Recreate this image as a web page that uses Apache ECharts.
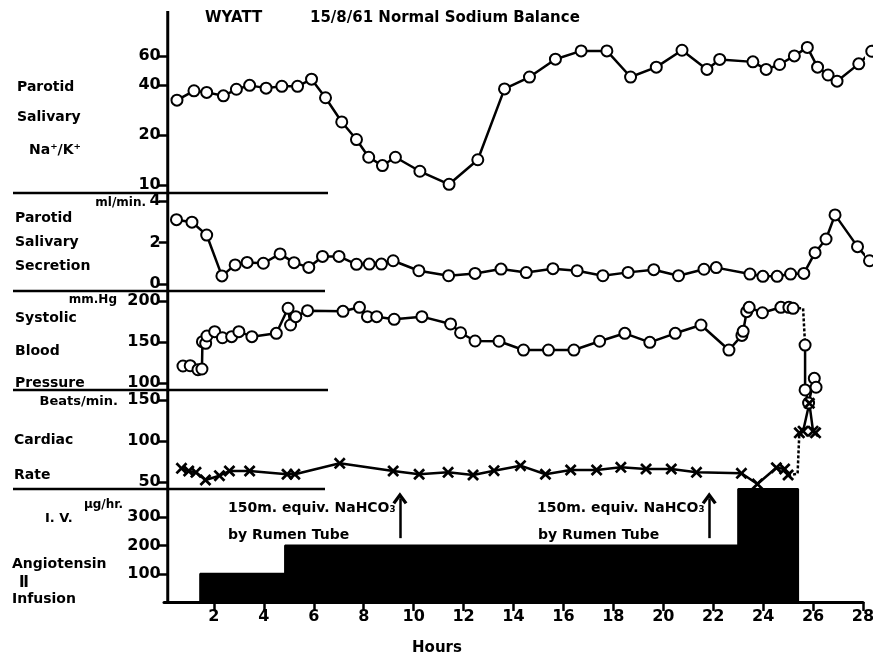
<!DOCTYPE html>
<html>
<head>
<meta charset="utf-8">
<script src="https://cdn.jsdelivr.net/npm/echarts@6/dist/echarts.min.js"></script>
<style>
  html, body { margin: 0; padding: 0; background: #fff; }
  #chart { width: 873px; height: 657px; }
</style>
</head>
<body>
<div id="chart"></div>
<script>
// hours on x, readings on y
var naKRatio = [
  [0.52, 32.5], [1.2, 37.0], [1.71, 36.2], [2.38, 34.5], [2.9, 37.8], [3.43, 39.9],
  [4.09, 38.4], [4.72, 39.4], [5.35, 39.4], [5.91, 43.5], [6.47, 33.6], [7.12, 24.0],
  [7.71, 18.8], [8.2, 14.7], [8.75, 13.1], [9.27, 14.7], [10.25, 12.1], [11.42, 10.1],
  [12.57, 14.2], [13.64, 38.0], [14.64, 44.8], [15.68, 57.4], [16.71, 64.4], [17.74, 64.4],
  [18.69, 44.8], [19.72, 51.4], [20.75, 65.0], [21.75, 49.8], [22.26, 57.2], [23.59, 55.3],
  [24.12, 49.8], [24.66, 53.3], [25.25, 60.1], [25.77, 67.6], [26.18, 51.4], [26.6, 46.1],
  [26.96, 42.3], [27.83, 53.8], [28.35, 64.1]
];
var secretion = [
  [0.5, 3.1], [1.12, 2.98], [1.71, 2.36], [2.32, 0.39], [2.85, 0.92], [3.33, 1.04],
  [3.98, 1.0], [4.65, 1.45], [5.21, 1.03], [5.8, 0.8], [6.35, 1.33], [7.01, 1.33],
  [7.71, 0.95], [8.22, 0.96], [8.71, 0.96], [9.18, 1.12], [10.21, 0.64], [11.4, 0.4],
  [12.46, 0.51], [13.5, 0.72], [14.51, 0.55], [15.58, 0.74], [16.55, 0.64], [17.58, 0.4],
  [18.59, 0.56], [19.62, 0.69], [20.61, 0.4], [21.63, 0.71], [22.12, 0.79], [23.47, 0.48],
  [23.99, 0.37], [24.56, 0.37], [25.1, 0.48], [25.63, 0.51], [26.08, 1.51], [26.52, 2.17],
  [26.88, 3.33], [27.78, 1.8], [28.26, 1.12]
];
var systolic = [
  [0.76, 120.7], [1.05, 121.1], [1.36, 116.2], [1.52, 117.1], [1.54, 150.4], [1.67, 148.4],
  [1.72, 157.3], [2.03, 162.6], [2.34, 155.2], [2.71, 156.5], [3.0, 162.6], [3.52, 156.5],
  [4.5, 160.6], [4.97, 191.1], [5.07, 170.7], [5.28, 180.9], [5.75, 188.2], [7.17, 187.4],
  [7.83, 192.3], [8.15, 180.9], [8.52, 180.9], [9.22, 177.7], [10.33, 180.9], [11.48, 172],
  [11.88, 161.3], [12.46, 151.2], [13.42, 150.9], [14.4, 140.2], [15.4, 140.2], [16.42, 140.2],
  [17.45, 150.9], [18.46, 160.6], [19.46, 149.6], [20.48, 160.6], [21.51, 170.7], [22.63, 140.2],
  [23.15, 158], [23.2, 163], [23.34, 187], [23.44, 192.3], [23.97, 185.7], [24.71, 192.3],
  [25.03, 192.3], [25.2, 191.1]
];
var systolicGap = [[25.2, 191.1], [25.6, 191], [25.68, 146.3]];
var systolicEnd = [[25.68, 146.3], [25.68, 91.5], [25.82, 75.6], [26.05, 105.7], [26.12, 94.8]];
var heartRate = [
  [0.7, 66.7], [0.99, 63.4], [1.28, 61.8], [1.66, 52.4], [2.22, 57.7], [2.62, 63.4],
  [3.43, 63.4], [4.93, 59.4], [5.24, 59.4], [7.04, 72.8], [9.18, 63.4], [10.22, 59.4],
  [11.38, 61.8], [12.38, 58.5], [13.22, 63.8], [14.28, 69.9], [15.28, 59.4], [16.29, 64.6],
  [17.33, 64.6], [18.3, 67.9], [19.31, 65.9], [20.32, 65.9], [21.33, 61.8], [23.13, 60.6],
  [23.77, 47.6], [24.53, 67.4], [24.86, 65.9], [25.0, 58.5]
];
var heartRateGap = [[25.0, 58.5], [25.38, 60], [25.45, 110]];
var heartRateEnd = [[25.45, 110], [25.6, 112], [25.85, 146], [26.0, 112], [26.1, 110]];
// infusion steps: rate starts at each hour and holds until the next
var infusion = [[0.15, 0], [1.45, 100], [4.85, 200], [23.0, 400], [25.4, 0], [28, 0]];
var bicarbHours = [9.45, 21.84];

var hourTicks = [2, 4, 6, 8, 10, 12, 14, 16, 18, 20, 22, 24, 26, 28];
var naKTicks = [10, 20, 40, 60];
var rateTicks = [100, 200, 300];

var FONT = '"DejaVu Sans", sans-serif';
var LEFT = 164, RIGHT = 10, HMAX = 28;
var pxPerHour = (873 - LEFT - RIGHT) / HMAX;
var axisX = LEFT + 0.15 * pxPerHour;

var grids = [
  { top: 56, height: 129 },
  { top: 201, height: 83 },
  { top: 301, height: 82 },
  { top: 400, height: 82 },
  { top: 489, height: 113 }
].map(function (g) {
  return { left: LEFT, right: RIGHT, top: g.top, height: g.height, containLabel: false, outerBoundsMode: 'none' };
});

function xAx(i, show) {
  return {
    gridIndex: i, type: 'value', min: 0, max: HMAX, interval: 2, show: show,
    axisLine: { show: true, onZero: false, lineStyle: { color: '#000', width: 3 } },
    axisTick: { show: true, length: 9, customValues: hourTicks, lineStyle: { color: '#000', width: 2.5 } },
    axisLabel: { customValues: hourTicks, color: '#000', fontWeight: 'bold', fontSize: 16, fontFamily: FONT, margin: 7 },
    splitLine: { show: false }
  };
}
function yAx(i, extra) {
  var a = {
    gridIndex: i, offset: -(axisX - LEFT),
    axisLine: { show: false },
    axisTick: { show: true, length: 9, lineStyle: { color: '#000', width: 2.5 } },
    axisLabel: { color: '#000', fontWeight: 'bold', fontSize: 16, fontFamily: FONT, margin: 7 },
    splitLine: { show: false }
  };
  for (var k in extra) a[k] = extra[k];
  return a;
}

var crossPath = 'path://M0,1.6L1.6,0L5,3.4L8.4,0L10,1.6L6.6,5L10,8.4L8.4,10L5,6.6L1.6,10L0,8.4L3.4,5Z';
var chevron = 'path://M0,8L5,0L10,8L8.2,9.5L5,4.2L1.8,9.5Z';

function circles(i, data) {
  return {
    type: 'line', xAxisIndex: i, yAxisIndex: i, data: data, clip: false, z: 3,
    symbol: 'circle', symbolSize: 11,
    itemStyle: { color: '#fff', borderColor: '#000', borderWidth: 2 },
    lineStyle: { color: '#000', width: 2.5 }
  };
}
function crosses(i, data) {
  return {
    type: 'line', xAxisIndex: i, yAxisIndex: i, data: data, clip: false, z: 3,
    symbol: crossPath, symbolSize: 12,
    itemStyle: { color: '#000' },
    lineStyle: { color: '#000', width: 2.5 }
  };
}
function dotted(i, data) {
  return {
    type: 'line', xAxisIndex: i, yAxisIndex: i, data: data, clip: false, z: 2,
    symbol: 'none', lineStyle: { color: '#000', width: 2.5, type: [3, 2] }
  };
}

function txt(x, y, s, size, align) {
  return {
    type: 'text', x: x, y: y,
    style: { text: s, font: 'bold ' + (size || 14) + 'px ' + FONT, fill: '#000', verticalAlign: 'middle', align: align || 'left' }
  };
}
function hline(y, x1, x2) {
  return { type: 'line', shape: { x1: x1, y1: y, x2: x2, y2: y }, style: { stroke: '#000', lineWidth: 2.5 } };
}

var chart = echarts.init(document.getElementById('chart'));
chart.setOption({
  animation: false,
  backgroundColor: '#fff',
  grid: grids,
  xAxis: [xAx(0, false), xAx(1, false), xAx(2, false), xAx(3, false), xAx(4, true)],
  yAxis: [
    yAx(0, { type: 'log', min: 10, max: 60,
      axisTick: { show: true, length: 9, customValues: naKTicks, lineStyle: { color: '#000', width: 2.5 } },
      axisLabel: { customValues: naKTicks, color: '#000', fontWeight: 'bold', fontSize: 16, fontFamily: FONT, margin: 7 } }),
    yAx(1, { type: 'value', min: 0, max: 4, interval: 2 }),
    yAx(2, { type: 'value', min: 100, max: 200, interval: 50 }),
    yAx(3, { type: 'value', min: 50, max: 150, interval: 50 }),
    yAx(4, { type: 'value', min: 0, max: 400, interval: 100,
      axisTick: { show: true, length: 9, customValues: rateTicks, lineStyle: { color: '#000', width: 2.5 } },
      axisLabel: { customValues: rateTicks, color: '#000', fontWeight: 'bold', fontSize: 16, fontFamily: FONT, margin: 7 } })
  ],
  series: [
    circles(0, naKRatio),
    circles(1, secretion),
    circles(2, systolic),
    dotted(2, systolicGap),
    circles(2, systolicEnd),
    crosses(3, heartRate),
    dotted(3, heartRateGap),
    crosses(3, heartRateEnd),
    {
      type: 'line', xAxisIndex: 4, yAxisIndex: 4, data: infusion, step: 'end', clip: false,
      symbol: 'none', lineStyle: { color: '#000', width: 2 },
      areaStyle: { color: '#000', opacity: 1 },
      markLine: {
        silent: true, symbol: ['none', chevron], symbolSize: [15, 12],
        lineStyle: { color: '#000', width: 2.5, type: 'solid' }, label: { show: false },
        data: bicarbHours.map(function (h) { return [{ coord: [h, 226] }, { coord: [h, 367] }]; })
      }
    }
  ],
  graphic: [
    { type: 'line', shape: { x1: axisX, y1: 11, x2: axisX, y2: 603 }, style: { stroke: '#000', lineWidth: 3 } },
    hline(193, 13, 328), hline(291, 13, 325), hline(390, 13, 328), hline(489, 13, 325),
    txt(205, 18, 'WYATT', 15),
    txt(310, 18, '15/8/61 Normal Sodium Balance', 15),
    txt(17, 87, 'Parotid'), txt(17, 117, 'Salivary'), txt(29, 150, 'Na⁺/K⁺'),
    txt(146, 203, 'ml/min.', 12, 'right'),
    txt(15, 218, 'Parotid'), txt(15, 242, 'Salivary'), txt(15, 266, 'Secretion'),
    txt(117, 300, 'mm.Hg', 12, 'right'),
    txt(15, 318, 'Systolic'), txt(15, 351, 'Blood'), txt(15, 383, 'Pressure'),
    txt(118, 402, 'Beats/min.', 13, 'right'),
    txt(14, 440, 'Cardiac'), txt(14, 475, 'Rate'),
    txt(123, 505, 'μg/hr.', 12, 'right'),
    txt(45, 519, 'I. V.', 13),
    txt(12, 564, 'Angiotensin'), txt(24, 583, 'Ⅱ', 15, 'center'), txt(12, 599, 'Infusion'),
    txt(228, 508, '150m. equiv. NaHCO₃'), txt(228, 535, 'by Rumen Tube'),
    txt(537, 508, '150m. equiv. NaHCO₃'), txt(538, 535, 'by Rumen Tube'),
    txt(437, 648, 'Hours', 15, 'center')
  ]
});
</script>
</body>
</html>
